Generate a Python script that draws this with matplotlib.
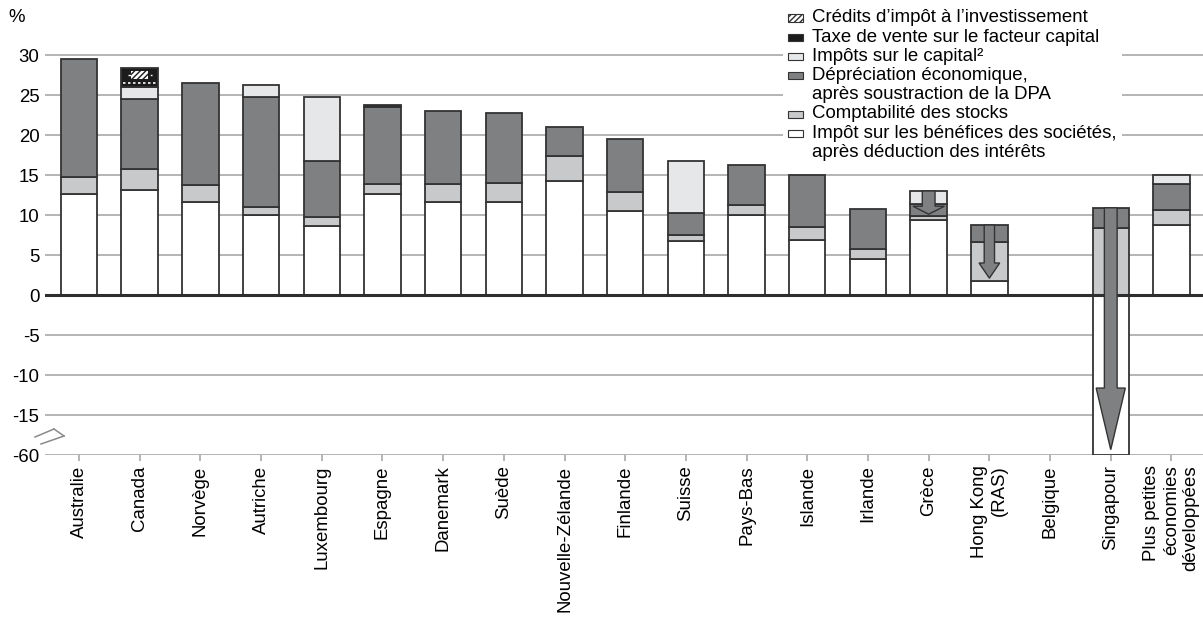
import numpy as np
import matplotlib
matplotlib.use('Agg')
import matplotlib.pyplot as plt
from matplotlib.patches import Rectangle, FancyArrow
from matplotlib.lines import Line2D

plt.rcParams['font.family'] = ['Liberation Sans', 'DejaVu Sans']
plt.rcParams['hatch.linewidth'] = 1.0

countries = ['Australie', 'Canada', 'Norvège', 'Autriche', 'Luxembourg', 'Espagne',
             'Danemark', 'Suède', 'Nouvelle-Zélande', 'Finlande', 'Suisse', 'Pays-Bas',
             'Islande', 'Irlande', 'Grèce', 'Hong Kong\n(RAS)', 'Belgique', 'Singapour',
             'Plus petites\néconomies\ndéveloppées']

# components of the marginal effective tax rate, %
corp_tax     = [12.6, 13.1, 11.6, 10.0, 8.6, 12.6, 11.6, 11.6, 14.2, 10.5, 6.7, 10.0, 6.9, 4.5, 9.4, 1.8, 0.0, -60.0, 8.7]
inventory    = [2.2, 2.6, 2.1, 1.0, 1.1, 1.3, 2.3, 2.4, 3.2, 2.4, 0.8, 1.3, 1.55, 1.2, 0.5, 4.8, 0.0, 8.4, 1.9]
depreciation = [14.7, 8.8, 12.8, 13.8, 7.1, 9.6, 9.1, 8.8, 3.6, 6.6, 2.7, 4.95, 6.55, 5.0, 1.5, 2.15, 0.0, 2.5, 3.3]
capital_tax  = [0.0, 1.5, 0.0, 1.4, 7.9, 0.0, 0.0, 0.0, 0.0, 0.0, 6.6, 0.0, 0.0, 0.0, 1.6, 0.0, 0.0, 0.0, 1.1]
sales_tax    = [0.0, 2.4, 0.0, 0.0, 0.0, 0.2, 0.0, 0.0, 0.0, 0.0, 0.0, 0.0, 0.0, 0.0, 0.0, 0.0, 0.0, 0.0, 0.0]
invest_credit = [0.0, 1.0, 0.0, 0.0, 0.0, 0.0, 0.0, 0.0, 0.0, 0.0, 0.0, 0.0, 0.0, 0.0, 0.0, 0.0, 0.0, 0.0, 0.0]

# net rate where credits pull the total below the stacked bar (arrows)
net_country = ['Grèce', 'Hong Kong\n(RAS)', 'Singapour']
net_rate    = [10.1, 2.1, -54.0]

yticks = [-60, -15, -10, -5, 0, 5, 10, 15, 20, 25, 30]

WHITE, LIGHT, DARK, PALE, BLACK = 'white', '#c8c9cb', '#7f8081', '#e6e7e8', '#1c1c1c'
EDGE = '#333333'
GRID = '#a8a8a8'
FS = 13.4


def brk(v):
    # squeeze the -15 .. -60 band into five units below -15
    v = np.asarray(v, dtype=float)
    return np.where(v >= -15, v, -15 + (v + 15) / 9.0)


W, H = 1203, 617
fig = plt.figure(figsize=(W / 100, H / 100), dpi=100)
ax = fig.add_axes([45 / W, 1 - 455 / H, 1 - 45 / W, (455 - 35) / H])

x = np.arange(len(countries))
bw = 0.6
corp = np.array(corp_tax)
corp_pos = np.clip(corp, 0, None)
corp_neg = brk(np.clip(corp, None, 0))

ax.bar(x, corp_pos, bw, color=WHITE, edgecolor=EDGE, lw=1.3, zorder=2)
m = corp_neg < 0
ax.bar(x[m], corp_neg[m], bw, color=WHITE, edgecolor=EDGE, lw=1.3, zorder=2)

bottom = corp_pos.copy()
for vals, col in [(inventory, LIGHT), (depreciation, DARK), (capital_tax, PALE), (sales_tax, BLACK)]:
    v = np.array(vals)
    m = v > 0
    ax.bar(x[m], v[m], bw, bottom=bottom[m], color=col, edgecolor=EDGE, lw=1.3, zorder=2)
    bottom = bottom + v

# investment tax credit drawn inside the sales-tax block
sales = np.array(sales_tax)
itc = np.array(invest_credit)
for i in np.where(itc > 0)[0]:
    base = bottom[i] - sales[i]
    ax.hlines(base + 0.45, x[i] - bw / 2 + 0.03, x[i] + bw / 2 - 0.03, colors='white',
              linestyles=(0, (1.5, 1.5)), lw=1.2, zorder=3)
    mid = base + 0.6 + (sales[i] - 0.6) / 2
    ax.hlines(mid, x[i] - 0.2, x[i] + 0.2, colors='white', linestyles=(0, (2, 2)), lw=1, zorder=3)
    ax.bar(x[i], itc[i], 0.28, bottom=mid - itc[i] / 2, color='white', edgecolor=BLACK,
           hatch='//////', lw=0, zorder=4)

# arrows to the net rate
arrow_style = {'Grèce': (0.21, 0.52, 1.0), 'Hong Kong\n(RAS)': (0.17, 0.34, 1.9),
               'Singapour': (0.21, 0.48, 7.7)}
for name, tot in zip(net_country, net_rate):
    i = countries.index(name)
    top = bottom[i]
    tip = float(brk(tot))
    sw, hw, hl = arrow_style[name]
    ax.add_patch(FancyArrow(x[i], top, 0, tip - top, width=sw, head_width=hw, head_length=hl,
                            length_includes_head=True, facecolor=DARK, edgecolor=EDGE,
                            lw=1.0, zorder=5))

ax.axhline(0, color='#2e2e2e', lw=2.2, zorder=4)

ax.set_xlim(-0.56, 18.52)
ax.set_ylim(-20, 32.5)
ax.set_yticks(brk(yticks))
ax.set_yticklabels([str(t) for t in yticks], fontsize=FS)
ax.tick_params(axis='y', length=0, pad=4)
ax.set_xticks(x)
ax.set_xticklabels(countries, rotation=90, fontsize=FS, va='top', ha='center',
                   multialignment='right')
ax.tick_params(axis='x', length=4.5, width=1.2, color=GRID, pad=3)
ax.grid(axis='y', color=GRID, lw=1.2, zorder=0)
ax.set_axisbelow(True)
for s in ax.spines.values():
    s.set_visible(False)

fig.text(8 / W, 1 - 18 / H, '%', fontsize=FS, va='center')

# break mark on the value axis
for (x0, y0, x1, y1) in [(35, 437, 54, 429), (54, 429, 64, 436), (41, 444, 64, 436)]:
    fig.add_artist(Line2D([x0 / W, x1 / W], [1 - y0 / H, 1 - y1 / H], color='#8a8a8a',
                          lw=1.1, transform=fig.transFigure))

# legend
fig.add_artist(Rectangle((783 / W, 1 - 163 / H), (1122 - 783) / W, 158 / H,
                         transform=fig.transFigure, facecolor='white', edgecolor='none', zorder=3))
legend_rows = [
    ('hatch', "Crédits d’impôt à l’investissement"),
    (BLACK, 'Taxe de vente sur le facteur capital'),
    (PALE, 'Impôts sur le capital²'),
    (DARK, 'Dépréciation économique,'),
    (None, 'après soustraction de la DPA'),
    (LIGHT, 'Comptabilité des stocks'),
    (WHITE, 'Impôt sur les bénéfices des sociétés,'),
    (None, 'après déduction des intérêts'),
]
for k, (col, label) in enumerate(legend_rows):
    yc = 18 + 19.2 * k
    if col == 'hatch':
        fig.add_artist(Rectangle((788 / W, 1 - (yc + 3.5) / H), 15 / W, 7 / H, transform=fig.transFigure,
                                 facecolor='white', edgecolor=EDGE, hatch='//////', lw=0.8, zorder=4))
    elif col is not None:
        fig.add_artist(Rectangle((788 / W, 1 - (yc + 3.5) / H), 15 / W, 7 / H, transform=fig.transFigure,
                                 facecolor=col, edgecolor=EDGE, lw=0.8, zorder=4))
    fig.text(812 / W, 1 - yc / H, label, fontsize=FS, va='center', zorder=5)

fig.savefig('out.png', dpi=100)
